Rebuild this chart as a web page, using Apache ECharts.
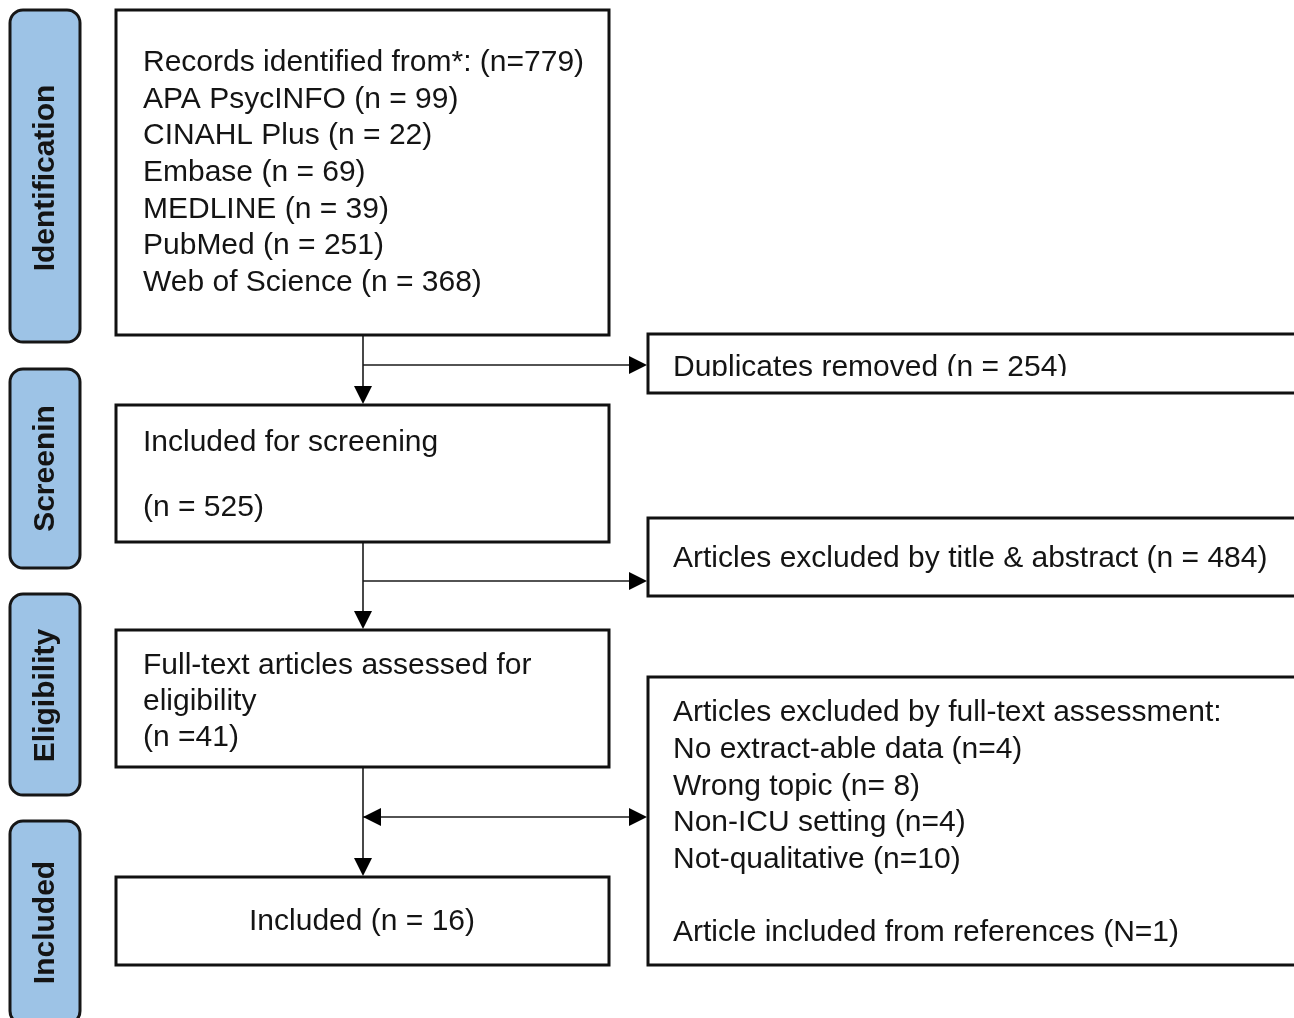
<!DOCTYPE html>
<html><head><meta charset="utf-8">
<script src="https://cdn.jsdelivr.net/npm/echarts@6/dist/echarts.min.js"></script>
<style>html,body{margin:0;padding:0;background:#fff}#c{width:1294px;height:1018px}</style>
</head><body><div id="c"></div>
<script>
// ---- content (data) ----
const stageLabels = ['Identification', 'Screenin', 'Eligibility', 'Included'];
const identifiedLines = ['Records identified from*: (n=779)', 'APA PsycINFO (n = 99)', 'CINAHL Plus (n = 22)', 'Embase (n = 69)', 'MEDLINE (n = 39)', 'PubMed (n = 251)', 'Web of Science (n = 368)'];
const screeningLines = ['Included for screening', '', '(n = 525)'];
const eligibilityLines = ['Full-text articles assessed for', 'eligibility', '(n =41)'];
const includedLines = ['Included (n = 16)'];
const duplicatesLines = ['Duplicates removed (n = 254)'];
const titleAbstractLines = ['Articles excluded by title & abstract (n = 484)'];
const fullTextLines = ['Articles excluded by full-text assessment:', 'No extract-able data (n=4)', 'Wrong topic (n= 8)', 'Non-ICU setting (n=4)', 'Not-qualitative (n=10)', '', 'Article included from references (N=1)'];

// ---- layout (positions in diagram units) ----
const W = 1294, H = 1018;
const tabLayout = [[10, 80, 10, 342], [10, 80, 369, 568], [10, 80, 594, 795], [10, 80, 821, 1024]];
const tabTextShift = [2, 0, 1, 0];
const boxSpecs = [
  { lines: identifiedLines, x0: 116, x1: 609, y0: 10, y1: 335, tx: 143, ty: 63, lh: 36.6, align: 'left' },
  { lines: screeningLines, x0: 116, x1: 609, y0: 405, y1: 542, tx: 143, ty: 443, lh: 32.5, align: 'left' },
  { lines: eligibilityLines, x0: 116, x1: 609, y0: 630, y1: 767, tx: 143, ty: 666, lh: 36, align: 'left' },
  { lines: includedLines, x0: 116, x1: 609, y0: 877, y1: 965, tx: 362, ty: 922, lh: 36, align: 'center' },
  { lines: duplicatesLines, x0: 648, x1: 1300, y0: 334, y1: 393, tx: 673, ty: 368, lh: 36, align: 'left', mask: [660, 1120, 376, 389] },
  { lines: titleAbstractLines, x0: 648, x1: 1300, y0: 518, y1: 596, tx: 673, ty: 559, lh: 36, align: 'left' },
  { lines: fullTextLines, x0: 648, x1: 1300, y0: 677, y1: 965, tx: 673, ty: 713, lh: 36.7, align: 'left' }
];
const connectors = [
  { from: [363, 335], to: [363, 404], start: false, end: true },
  { from: [363, 365], to: [647, 365], start: false, end: true },
  { from: [363, 542], to: [363, 629], start: false, end: true },
  { from: [363, 581], to: [647, 581], start: false, end: true },
  { from: [363, 767], to: [363, 876], start: false, end: true },
  { from: [363, 817], to: [647, 817], start: true, end: true }
];

const FONT = '"Liberation Sans", Arial, Helvetica, sans-serif';
const TXT = '#141414';

function renderTab(params, api) {
  const t = tabLayout[params.dataIndex];
  const p0 = api.coord([t[0], t[2]]), p1 = api.coord([t[1], t[3]]);
  const c = api.coord([(t[0] + t[1]) / 2, (t[2] + t[3]) / 2 + tabTextShift[params.dataIndex]]);
  return { type: 'group', children: [
    { type: 'rect', shape: { x: p0[0], y: p0[1], width: p1[0] - p0[0], height: p1[1] - p0[1], r: 13 },
      style: { fill: '#9DC3E6', stroke: '#161616', lineWidth: 3 } },
    { type: 'text', x: c[0] + 1, y: c[1], rotation: Math.PI / 2,
      style: { text: stageLabels[params.dataIndex], x: 0, y: 0, align: 'center', verticalAlign: 'middle',
        font: 'bold 30px ' + FONT, fill: TXT } }
  ] };
}

function renderBox(params, api) {
  const b = boxSpecs[params.dataIndex];
  const p0 = api.coord([b.x0, b.y0]), p1 = api.coord([b.x1, b.y1]);
  const children = [{ type: 'rect', shape: { x: p0[0], y: p0[1], width: p1[0] - p0[0], height: p1[1] - p0[1] },
    style: { fill: '#fff', stroke: '#111', lineWidth: 3 } }];
  b.lines.forEach((line, i) => {
    const q = api.coord([b.tx, b.ty + i * b.lh]);
    children.push({ type: 'text', style: { text: line, x: q[0], y: q[1], align: b.align, verticalAlign: 'middle',
      font: '30px ' + FONT, fill: TXT } });
  });
  if (b.mask) {
    const m0 = api.coord([b.mask[0], b.mask[2]]), m1 = api.coord([b.mask[1], b.mask[3]]);
    children.push({ type: 'rect', shape: { x: m0[0], y: m0[1], width: m1[0] - m0[0], height: m1[1] - m0[1] },
      style: { fill: '#fff' } });
  }
  return { type: 'group', children };
}

function head(tip, dir) {
  const L = 18, Hw = 9;
  const bx = tip[0] - dir[0] * L, by = tip[1] - dir[1] * L;
  return { type: 'polygon', shape: { points: [tip, [bx - dir[1] * Hw, by + dir[0] * Hw], [bx + dir[1] * Hw, by - dir[0] * Hw]] },
    style: { fill: '#000' } };
}

function renderConnector(params, api) {
  const c = connectors[params.dataIndex];
  const a = api.coord(c.from), b = api.coord(c.to);
  const len = Math.hypot(b[0] - a[0], b[1] - a[1]);
  const d = [(b[0] - a[0]) / len, (b[1] - a[1]) / len];
  const children = [{ type: 'line', shape: { x1: a[0], y1: a[1], x2: b[0] - (c.end ? d[0] * 10 : 0), y2: b[1] - (c.end ? d[1] * 10 : 0) },
    style: { stroke: '#1a1a1a', lineWidth: 1.6 } }];
  if (c.end) children.push(head(b, d));
  if (c.start) children.push(head(a, [-d[0], -d[1]]));
  return { type: 'group', children };
}

const chart = echarts.init(document.getElementById('c'), null, { renderer: 'canvas' });
chart.setOption({
  backgroundColor: '#fff',
  animation: false,
  grid: { left: 0, right: 0, top: 0, bottom: 0 },
  xAxis: { type: 'value', min: 0, max: W, show: false },
  yAxis: { type: 'value', min: 0, max: H, inverse: true, show: false },
  series: [
    { type: 'custom', renderItem: renderConnector, data: connectors.map((c, i) => [i]), silent: true, z: 1 },
    { type: 'custom', renderItem: renderTab, data: stageLabels.map((s, i) => [i]), silent: true, z: 2 },
    { type: 'custom', renderItem: renderBox, data: boxSpecs.map((b, i) => [i]), silent: true, z: 3 }
  ]
});
</script></body></html>
